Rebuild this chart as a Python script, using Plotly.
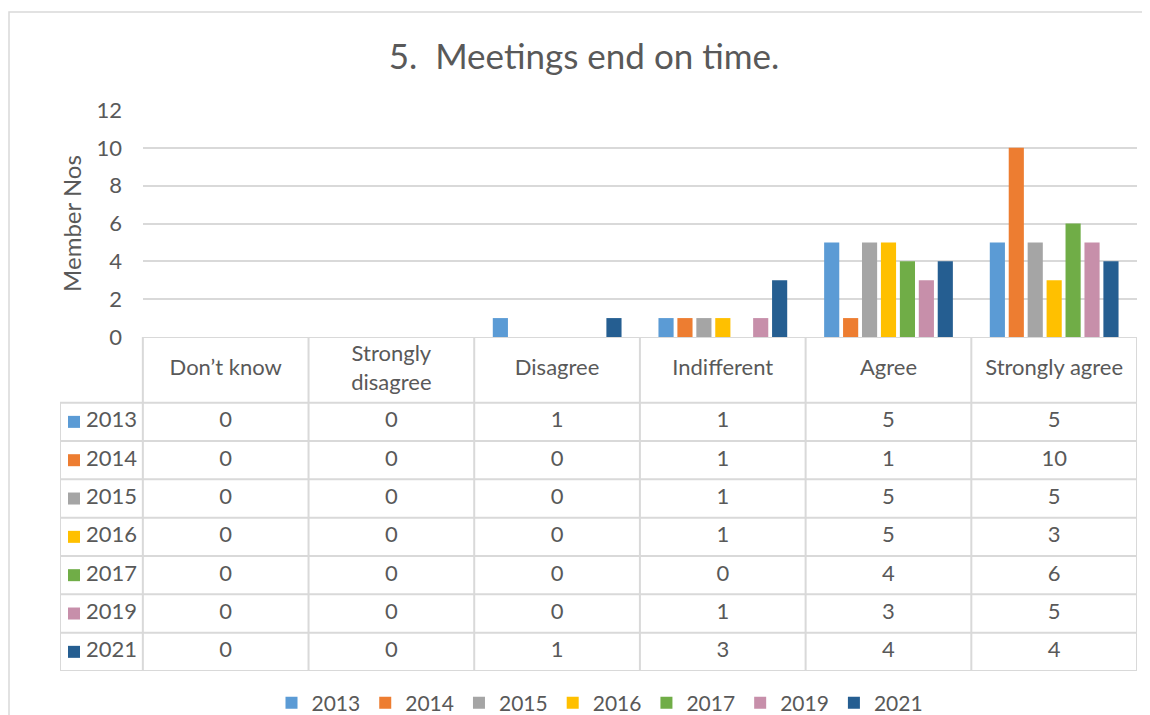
import plotly.graph_objects as go

categories = ["Don’t know", "Strongly disagree", "Disagree", "Indifferent", "Agree", "Strongly agree"]
header_labels = ["Don’t know", "Strongly<br>disagree", "Disagree", "Indifferent", "Agree", "Strongly agree"]
years = ["2013", "2014", "2015", "2016", "2017", "2019", "2021"]
v2013 = [0, 0, 1, 1, 5, 5]
v2014 = [0, 0, 0, 1, 1, 10]
v2015 = [0, 0, 0, 1, 5, 5]
v2016 = [0, 0, 0, 1, 5, 3]
v2017 = [0, 0, 0, 0, 4, 6]
v2019 = [0, 0, 0, 1, 3, 5]
v2021 = [0, 0, 1, 3, 4, 4]
series = [v2013, v2014, v2015, v2016, v2017, v2019, v2021]
colors = ["#5B9BD5", "#ED7D31", "#A5A5A5", "#FFC000", "#70AD47", "#C78FAA", "#255E91"]

# page body adds an 8px offset; figure sized to fit the window
OFF = 8
W, H = 1150 - OFF, 715 - OFF
FONT = "Lato"
TXT = "#595959"
GRID = "#D9D9D9"

def px_x(p):
    return (p - OFF) / W

def px_y(p):
    return 1 - (p - OFF) / H

fig = go.Figure()
for yr, vals, col in zip(years, series, colors):
    fig.add_trace(go.Bar(x=categories, y=vals, name=yr, marker=dict(color=col, line=dict(width=0)),
                         xaxis="x", yaxis="y"))

ncat = len(categories)
nrow = len(years)
col_px = (1137 - 143) / ncat
header_h = 66 / 38.5
y_total = header_h + nrow

fig.add_trace(go.Scatter(x=list(range(ncat)), y=[header_h / 2] * ncat, text=header_labels,
                         mode="text", textfont=dict(family=FONT, size=22, color=TXT),
                         xaxis="x2", yaxis="y2", showlegend=False, hoverinfo="skip", cliponaxis=False))
for r, (yr, vals, col) in enumerate(zip(years, series, colors)):
    yc = header_h + r + 0.5
    fig.add_trace(go.Scatter(x=list(range(ncat)), y=[yc] * ncat, text=[str(v) for v in vals],
                             mode="text", textfont=dict(family=FONT, size=22, color=TXT),
                             xaxis="x2", yaxis="y2", showlegend=False, hoverinfo="skip", cliponaxis=False))
    fig.add_trace(go.Scatter(x=[-1 + 14 / col_px], y=[yc], mode="markers",
                             marker=dict(symbol="square", size=12, color=col),
                             xaxis="x2", yaxis="y2", showlegend=False, hoverinfo="skip", cliponaxis=False))
    fig.add_trace(go.Scatter(x=[-1 + 26 / col_px], y=[yc], text=[yr], mode="text", textposition="middle right",
                             textfont=dict(family=FONT, size=22, color=TXT),
                             xaxis="x2", yaxis="y2", showlegend=False, hoverinfo="skip", cliponaxis=False))

shapes = []
line = dict(color=GRID, width=2)
shapes.append(dict(type="line", xref="x2", yref="y2", x0=-0.5, x1=ncat - 0.5, y0=0, y1=0, line=line))
for k in range(nrow + 1):
    yy = header_h + k
    shapes.append(dict(type="line", xref="x2", yref="y2", x0=-1, x1=ncat - 0.5, y0=yy, y1=yy, line=line))
shapes.append(dict(type="line", xref="x2", yref="y2", x0=-1, x1=-1, y0=header_h, y1=y_total, line=line))
for c in range(ncat + 1):
    xx = c - 0.5
    shapes.append(dict(type="line", xref="x2", yref="y2", x0=xx, x1=xx, y0=0, y1=y_total, line=line))
shapes.append(dict(type="rect", xref="paper", yref="paper", x0=px_x(9), x1=px_x(1170), y0=px_y(740), y1=px_y(12),
                   line=dict(color="#D9D9D9", width=1.5), layer="below"))

fig.update_layout(
    width=W, height=H,
    margin=dict(l=0, r=0, t=0, b=0, pad=0, autoexpand=False),
    paper_bgcolor="white", plot_bgcolor="white",
    font=dict(family=FONT, color=TXT),
    title=dict(text="5.  Meetings end on time.", x=px_x(584), xanchor="center", y=px_y(57), yanchor="middle",
               font=dict(family=FONT, size=35, color=TXT)),
    barmode="group", bargap=0.2, bargroupgap=0.2,
    xaxis=dict(domain=[px_x(143), px_x(1137)], range=[-0.5, ncat - 0.5], showticklabels=False,
               showgrid=False, zeroline=False, showline=False, ticks="", automargin=False),
    yaxis=dict(domain=[px_y(337), px_y(110)], range=[0, 12], dtick=2, showgrid=True, gridcolor=GRID, gridwidth=2,
               zeroline=False, showline=False, tickfont=dict(family=FONT, size=22, color=TXT),
               ticklabelstandoff=20, automargin=False,
               title=dict(text="Member Nos", font=dict(family=FONT, size=24, color=TXT), standoff=8)),
    xaxis2=dict(domain=[px_x(60), px_x(1137)], range=[-1, ncat - 0.5], visible=False, anchor="y2", automargin=False),
    yaxis2=dict(domain=[px_y(671), px_y(337)], range=[y_total, 0], visible=False, anchor="x2", automargin=False),
    legend=dict(orientation="h", x=px_x(600), xanchor="center", yref="container", y=px_y(703), yanchor="middle",
                font=dict(family=FONT, size=21, color=TXT), itemwidth=30, traceorder="normal"),
    shapes=shapes,
    showlegend=True,
)

fig.write_html("out.html")
